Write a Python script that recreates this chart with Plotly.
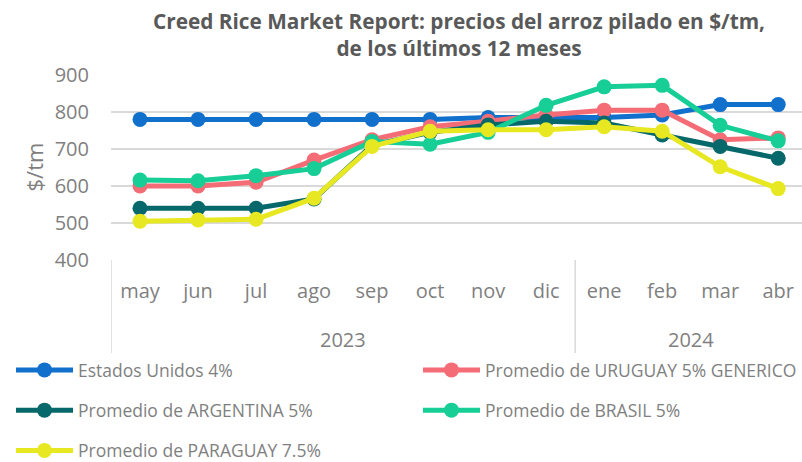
import plotly.graph_objects as go

months = ["may", "jun", "jul", "ago", "sep", "oct", "nov", "dic", "ene", "feb", "mar", "abr"]
year_labels = ["2023", "2024"]
year_centers = [3.5, 9.5]        # category index midpoints of each year group
year_bounds = [-0.5, 7.5, 11.5]  # category boundaries between year groups

estados_unidos = [780, 780, 780, 780, 780, 780, 785, 785, 785, 792, 820, 820]
uruguay = [600, 600, 610, 670, 725, 760, 775, 792, 805, 805, 725, 730]
argentina = [540, 540, 540, 565, 710, 745, 765, 775, 770, 738, 707, 675]
brasil = [616, 614, 628, 647, 720, 713, 745, 818, 868, 872, 764, 722]
paraguay = [505, 508, 510, 567, 707, 748, 752, 752, 760, 748, 652, 593]

series = [
    ("Estados Unidos 4%", estados_unidos, "#1170CC", "legend"),
    ("Promedio de URUGUAY 5% GENERICO", uruguay, "#F46C75", "legend2"),
    ("Promedio de ARGENTINA 5%", argentina, "#06686A", "legend"),
    ("Promedio de BRASIL 5%", brasil, "#16CE96", "legend2"),
    ("Promedio de PARAGUAY 7.5%", paraguay, "#E8E822", "legend"),
]

FONT = "Open Sans"
GRAY = "#7F7F7F"
W, H = 802, 462
PLOT_TOP, PLOT_BOTTOM = 75, 260
PH = PLOT_BOTTOM - PLOT_TOP

fig = go.Figure()
for i, (name, vals, col, lg) in enumerate(series):
    fig.add_trace(go.Scatter(
        x=months, y=vals, name=name, mode="lines+markers",
        line=dict(color=col, width=5),
        marker=dict(color=col, size=15),
        legend=lg, legendgroup=f"g{i}",
    ))

# year labels under the month labels
for lab, cx in zip(year_labels, year_centers):
    fig.add_annotation(
        x=cx, xref="x", y=-(339 - PLOT_BOTTOM) / PH, yref="paper",
        text=lab, showarrow=False, yanchor="middle",
        font=dict(family=FONT, size=20, color=GRAY),
    )
# group dividers
for b in year_bounds:
    fig.add_shape(
        type="line", xref="x", yref="paper", x0=b, x1=b,
        y0=0, y1=-(353 - PLOT_BOTTOM) / PH,
        line=dict(color="#D9D9D9", width=1.5),
    )
# y axis title
fig.add_annotation(
    x=(33 - 111) / (W - 111), xref="x domain", xanchor="center",
    y=0.5, yref="y domain",
    text="$/tm", showarrow=False, textangle=-90,
    font=dict(family=FONT, size=22, color=GRAY),
)

fig.update_layout(
    width=W, height=H,
    margin=dict(l=111, r=0, t=PLOT_TOP, b=H - PLOT_BOTTOM, autoexpand=False),
    paper_bgcolor="white", plot_bgcolor="white",
    font=dict(family=FONT, color=GRAY),
    title=dict(
        text="<b>Creed Rice Market Report: precios del arroz pilado en $/tm,<br>de los últimos 12 meses</b>",
        x=459 / W, xanchor="center", xref="container",
        y=1 - 29 / H, yanchor="top", yref="container",
        font=dict(family=FONT, size=20.8, color="#595959"),
    ),
    xaxis=dict(
        type="category", range=[-0.5, 11.41], automargin=False,
        showgrid=False, showline=False, zeroline=False,
        ticks="outside", ticklen=13, tickcolor="rgba(0,0,0,0)",
        tickfont=dict(size=20, color=GRAY), tickangle=0,
    ),
    yaxis=dict(
        range=[400, 900], dtick=100, showgrid=True, gridcolor="#D9D9D9", gridwidth=1.5,
        zeroline=False, showline=False, automargin=False,
        ticks="outside", ticklen=17, tickcolor="rgba(0,0,0,0)",
        tickfont=dict(size=20, color=GRAY),
    ),
    legend=dict(
        xref="container", yref="container", x=11 / W, y=1 - 352 / H,
        xanchor="left", yanchor="top", orientation="v", itemwidth=57,
        font=dict(size=17.5, color=GRAY), tracegroupgap=14.5, bgcolor="rgba(0,0,0,0)",
    ),
    legend2=dict(
        xref="container", yref="container", x=418 / W, y=1 - 352 / H,
        xanchor="left", yanchor="top", orientation="v", itemwidth=57,
        font=dict(size=17.5, color=GRAY), tracegroupgap=14.5, bgcolor="rgba(0,0,0,0)",
    ),
)

fig.write_html("out.html", config={"displayModeBar": False},
               post_script="document.body.style.margin='0';")
